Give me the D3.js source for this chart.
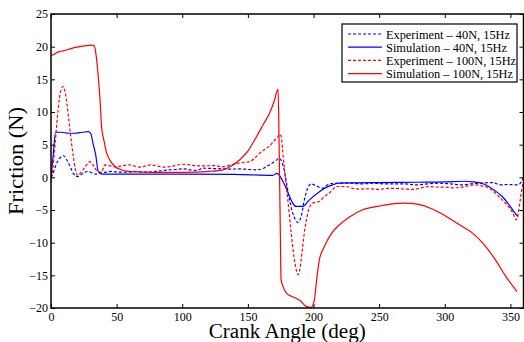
<!DOCTYPE html>
<html>
<head>
<meta charset="utf-8">
<script src="https://cdn.jsdelivr.net/npm/d3@7"></script>
<style>
  body { margin: 0; background: #fff; }
  svg { font-family: "Liberation Serif", "Times New Roman", "DejaVu Serif", serif; }
</style>
</head>
<body>
<svg width="524" height="342"></svg>
<script>
// crank angle (deg) / friction (N)
var exp40Angle = [0,1.5,4,7,9.5,12,14,17,20,23,26,28.5,31,34,38,42,46,52,58,65,72,80,88,95,101,106,111,116,123,131,138,144,150,156.5,161,164,168,171.5,174,176.5,178,179.5,181.7,183.5,185.5,188,190.6,193,195.6,198,202,207,212,220,228,237,245,255,263,270,278,287,295,304,313,320,326,336,343,348,354,357,360];
var exp40 = [0,0.6,2.0,3.0,3.3,2.7,1.9,0.6,0.1,0.4,0.8,0.9,0.7,0.5,0.7,0.8,0.9,0.8,0.8,0.9,0.8,0.9,1.1,1.2,1.3,1.15,1.05,1.4,1.35,1.3,1.25,1.3,1.2,1.15,1.3,1.65,2.1,2.6,2.9,2.0,0.8,-0.9,-3.4,-5.0,-6.2,-6.9,-6.0,-3.5,-1.65,-1.0,-1.3,-1.65,-1.0,-0.9,-0.9,-1.0,-0.9,-1.0,-1.0,-1.0,-1.15,-1.0,-0.9,-1.0,-1.15,-1.0,-0.9,-0.8,-1.15,-1.1,-1.15,-1.0,0.0];

var sim40Angle = [0,1.5,3.5,8,13,18,24,28.5,30.5,32,34,36,38.5,60,100,140,169,172,174,176.6,179,181.7,184,186.8,191.8,196.9,204.5,210,214.6,219.6,230,250,280,300,315,322,328,333.5,338,343.6,349,354,356];
var sim40 = [0,3,6.9,6.9,6.75,6.75,6.9,7.0,6.6,5.2,3.5,0.9,0.5,0.5,0.5,0.45,0.3,0.6,0.3,-0.6,-1.6,-2.9,-3.9,-4.45,-4.45,-3.45,-2.2,-1.5,-1.15,-0.9,-0.85,-0.8,-0.75,-0.7,-0.6,-0.7,-0.9,-1.4,-2.0,-2.9,-4.2,-5.6,-6.0];

var exp100Angle = [0,1.5,3.5,5.5,7.5,9.3,11,13.3,15,17,18.5,20.3,23.4,26,29.7,31.5,33.5,36.3,38.5,41,45,50,55,60.3,64,68,72,75.5,80,85.6,92,100.8,106,111,116,124,131,137,143.8,151.4,155,159,163,166.5,170,172.8,174.5,175.5,176.5,178,180.4,183,185,186.8,188,189.3,190.6,193,195.6,199.4,204.5,208,212,218,225,230,235,242,250,256,263,270,276,282,288,295,301,307,313,318,323,328,333.5,337,341,345,348.6,352,354.5,356,357.6,359,360];
var exp100 = [-0.8,1.5,6,10.5,13.3,13.9,12.8,9.3,6.3,3.2,1.3,0.3,0.9,1.6,2.4,2.1,1.4,0.8,0.8,1.9,1.75,1.6,1.8,1.9,1.7,1.55,1.75,1.9,1.8,1.55,1.7,2.0,1.9,1.75,1.75,1.8,1.65,1.9,2.2,2.4,2.9,3.7,4.3,4.8,5.6,6.2,6.6,6.2,4.0,1.0,-3.4,-8.5,-12,-14.1,-14.9,-14.4,-12.6,-8.5,-5.5,-3.95,-3.7,-3.0,-2.4,-1.4,-1.4,-1.7,-1.8,-1.75,-1.85,-1.7,-1.7,-1.8,-1.85,-1.6,-1.4,-1.5,-1.5,-1.6,-1.5,-1.3,-1.15,-1.3,-1.6,-2.1,-2.9,-3.7,-4.5,-5.5,-6.5,-5.5,-3.4,-1.5,-0.9];

var sim100Angle = [0,2,5.7,10,15.8,22,27,31,33,34.5,36,37.5,38.5,40.5,42.4,45,48.7,53,58.8,70,90,110,120,131,138,143.8,150,156.5,162,166.5,170,173,173.8,174.5,175.3,177,179.2,183,186.8,190,194.4,198.2,200.7,202.5,204.5,208.3,214,219.6,228,237,250,260,269,280,290,297,306,314,321,330,338.5,346,355];
var sim100 = [18.6,18.8,19.2,19.4,19.75,20.0,20.15,20.25,20.1,18.5,15.4,11.5,7.8,5.5,3.7,2.6,1.65,1.2,0.9,0.8,0.75,0.8,0.9,1.15,1.8,2.7,4.0,6.2,8.2,9.8,11.6,13.5,5,-5,-15.7,-16.8,-17.7,-18.2,-18.5,-18.9,-19.75,-19.9,-18.7,-15.5,-12.6,-10.6,-8.5,-7.3,-6.0,-5.0,-4.4,-4.05,-3.95,-4.15,-4.8,-5.5,-6.6,-7.6,-8.5,-10.3,-12.6,-15.0,-17.5];

var seriesNames = ["Experiment \u2013 40N, 15Hz", "Simulation \u2013 40N, 15Hz", "Experiment \u2013 100N, 15Hz", "Simulation \u2013 100N, 15Hz"];
var seriesColors = ["#0000ff", "#0000ff", "#ff0000", "#ff0000"];
var seriesDashed = [true, false, true, false];
var xTicks = [0, 50, 100, 150, 200, 250, 300, 350];
var yTicks = [-20, -15, -10, -5, 0, 5, 10, 15, 20, 25];

var series = [
  {x: exp40Angle, y: exp40},
  {x: sim40Angle, y: sim40},
  {x: exp100Angle, y: exp100},
  {x: sim100Angle, y: sim100}
];

var svg = d3.select("svg");
var plotLeft = 51, plotRight = 523.5, plotTop = 14, plotBottom = 308;

var scaleX = d3.scaleLinear().domain([0, 360]).range([plotLeft, plotRight]);
var scaleY = d3.scaleLinear().domain([-20, 25]).range([plotBottom, plotTop]);

svg.append("clipPath").attr("id", "plotclip")
  .append("rect").attr("x", plotLeft).attr("y", plotTop)
  .attr("width", plotRight - plotLeft).attr("height", plotBottom - plotTop);

var line = d3.line()
  .x(function(d){ return scaleX(d[0]); })
  .y(function(d){ return scaleY(d[1]); })
  .curve(d3.curveMonotoneX);

var plot = svg.append("g").attr("clip-path", "url(#plotclip)");
series.forEach(function(s, i){
  var pts = s.x.map(function(a, j){ return [a, s.y[j]]; });
  plot.append("path")
    .datum(pts)
    .attr("d", line)
    .attr("fill", "none")
    .attr("stroke", seriesColors[i])
    .attr("stroke-width", 1.2)
    .attr("stroke-dasharray", seriesDashed[i] ? "3,2" : null);
});

// axes, ticks pointing inward
svg.append("g").attr("transform", "translate(0," + plotBottom + ")")
  .call(d3.axisBottom(scaleX).tickValues(xTicks).tickSize(-4).tickPadding(4));
svg.append("g").attr("transform", "translate(0," + plotTop + ")")
  .call(d3.axisTop(scaleX).tickValues(xTicks).tickSize(-4).tickFormat(""));
svg.append("g").attr("transform", "translate(" + plotLeft + ",0)")
  .call(d3.axisLeft(scaleY).tickValues(yTicks).tickSize(-4).tickPadding(3));
svg.append("g").attr("transform", "translate(" + plotRight + ",0)")
  .call(d3.axisRight(scaleY).tickValues(yTicks).tickSize(-4).tickFormat(""));

svg.selectAll(".domain").remove();
svg.selectAll("g").attr("font-family", null);
svg.selectAll(".tick line").attr("stroke", "#000").attr("stroke-width", 1);
svg.selectAll(".tick text").attr("fill", "#000").style("font-size", "12px");

svg.append("rect")
  .attr("x", plotLeft).attr("y", plotTop)
  .attr("width", plotRight - plotLeft).attr("height", plotBottom - plotTop)
  .attr("fill", "none").attr("stroke", "#000").attr("stroke-width", 1.5);

// axis titles
svg.append("text")
  .attr("x", (plotLeft + plotRight) / 2).attr("y", 338)
  .attr("text-anchor", "middle")
  .attr("textLength", 157).attr("lengthAdjust", "spacingAndGlyphs")
  .style("font-size", "20.5px")
  .text("Crank Angle (deg)");

svg.append("text")
  .attr("transform", "translate(23," + ((plotTop + plotBottom) / 2) + ") rotate(-90)")
  .attr("text-anchor", "middle")
  .attr("textLength", 108).attr("lengthAdjust", "spacingAndGlyphs")
  .style("font-size", "21px")
  .text("Friction (N)");

// legend
var legendWidths = [124, 121, 130, 127];
var legend = svg.append("g");
legend.append("rect")
  .attr("x", 342).attr("y", 24).attr("width", 175).attr("height", 58)
  .attr("fill", "#fff").attr("stroke", "#000").attr("stroke-width", 1.2);

seriesNames.forEach(function(name, i){
  var yy = 34 + i * 13.2;
  legend.append("line")
    .attr("x1", 348).attr("x2", 382).attr("y1", yy).attr("y2", yy)
    .attr("stroke", seriesColors[i]).attr("stroke-width", 1.2)
    .attr("stroke-dasharray", seriesDashed[i] ? "3,2" : null);
  legend.append("text")
    .attr("x", 386).attr("y", yy + 4.5)
    .attr("textLength", legendWidths[i]).attr("lengthAdjust", "spacingAndGlyphs")
    .style("font-size", "12.5px")
    .text(name);
});
</script>
</body>
</html>
